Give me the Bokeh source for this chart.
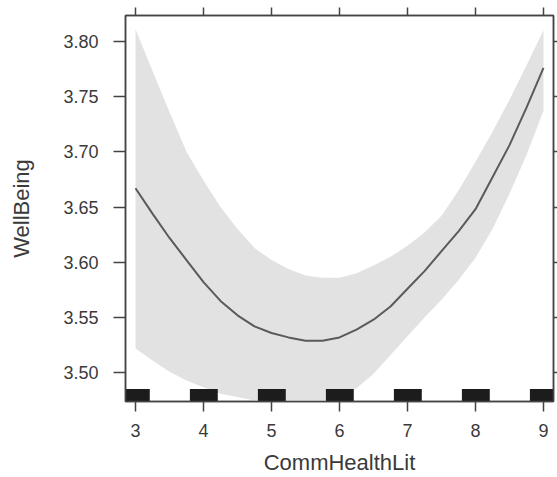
from bokeh.plotting import figure
from bokeh.models import Range1d, LinearAxis, FixedTicker, CustomLabelingPolicy
from bokeh.embed import file_html
from bokeh.resources import INLINE

# ---- data ----
x_grid = [3.0, 3.25, 3.5, 3.75, 4.0, 4.25, 4.5, 4.75, 5.0, 5.25, 5.5, 5.75, 6.0,
          6.25, 6.5, 6.75, 7.0, 7.25, 7.5, 7.75, 8.0, 8.25, 8.5, 8.75, 9.0]
fit = [3.667, 3.644, 3.622, 3.602, 3.582, 3.565, 3.552, 3.542, 3.536, 3.532, 3.529, 3.529, 3.532,
       3.539, 3.548, 3.560, 3.576, 3.592, 3.610, 3.628, 3.648, 3.677, 3.706, 3.740, 3.776]
upper = [3.811, 3.773, 3.736, 3.700, 3.674, 3.650, 3.630, 3.613, 3.602, 3.594, 3.588, 3.586, 3.586,
         3.590, 3.597, 3.605, 3.615, 3.627, 3.642, 3.665, 3.691, 3.718, 3.747, 3.778, 3.810]
lower = [3.522, 3.511, 3.501, 3.493, 3.487, 3.481, 3.478, 3.475, 3.473, 3.472, 3.472, 3.473, 3.478,
         3.486, 3.499, 3.516, 3.533, 3.550, 3.566, 3.584, 3.604, 3.630, 3.662, 3.697, 3.737]
rug_values = [3, 4, 5, 6, 7, 8, 9]
x_ticks = [3, 4, 5, 6, 7, 8, 9]
y_ticks = [3.50, 3.55, 3.60, 3.65, 3.70, 3.75, 3.80]
y_tick_labels = ["3.50", "3.55", "3.60", "3.65", "3.70", "3.75", "3.80"]
x_title = "CommHealthLit"
y_title = "WellBeing"

# ---- styling ----
FONT = "Liberation Sans"
TXT = "#3a3a3a"
LINE = "#444444"
X0, X1 = 2.853, 9.147
Y0, Y1 = 3.474, 3.8233
FRAME_H = 386

p = figure(width=557, height=477, output_backend="svg", toolbar_location=None,
           x_range=Range1d(X0, X1), y_range=Range1d(Y0, Y1),
           min_border_left=125, min_border_right=4, min_border_top=15, min_border_bottom=76)
p.grid.visible = False
p.background_fill_color = "white"
p.border_fill_color = "white"
p.outline_line_color = LINE
p.outline_line_width = 1.5

# confidence band
p.varea(x=x_grid, y1=lower, y2=upper, fill_color="#e2e2e3")
# fitted effect
p.line(x=x_grid, y=fit, line_color="#5a5a5a", line_width=2)
# rug
rug_h = (Y1 - Y0) * 12.5 / FRAME_H
p.quad(left=[v - 0.2 for v in rug_values], right=[v + 0.21 for v in rug_values],
       bottom=[Y0] * len(rug_values), top=[Y0 + rug_h] * len(rug_values),
       fill_color="#1c1c1c", line_color=None)

def style_axis(ax, tick_out):
    ax.major_tick_out = tick_out
    ax.major_tick_in = 0
    ax.minor_tick_out = 0
    ax.minor_tick_in = 0
    ax.axis_line_color = LINE
    ax.axis_line_width = 1.5
    ax.major_tick_line_color = LINE
    ax.major_tick_line_width = 1.5
    ax.major_label_text_font = FONT
    ax.major_label_text_color = TXT
    ax.axis_label_text_font = FONT
    ax.axis_label_text_color = TXT
    ax.axis_label_text_font_style = "normal"

xa = p.xaxis[0]
xa.ticker = FixedTicker(ticks=x_ticks)
style_axis(xa, 10)
xa.major_label_text_font_size = "18px"
xa.major_label_standoff = 12
xa.axis_label = x_title
xa.axis_label_text_font_size = "22px"
xa.axis_label_standoff = 10

ya = p.yaxis[0]
ya.ticker = FixedTicker(ticks=y_ticks)
ya.major_label_overrides = {t: l for t, l in zip(y_ticks, y_tick_labels)}
style_axis(ya, 12)
ya.major_label_text_font_size = "18px"
ya.major_label_standoff = 15
ya.axis_label = y_title
ya.axis_label_text_font_size = "22px"
ya.axis_label_standoff = 26

no_labels = """
const all = [...indices];
for (const i of all) indices.unset(i);
return indices;
"""

top = LinearAxis(ticker=FixedTicker(ticks=x_ticks),
                 major_label_policy=CustomLabelingPolicy(code=no_labels))
style_axis(top, 8)
top.major_label_text_font_size = "0px"
top.major_label_standoff = 0
p.add_layout(top, "above")

right = LinearAxis(ticker=FixedTicker(ticks=y_ticks),
                   major_label_policy=CustomLabelingPolicy(code=no_labels))
style_axis(right, 4)
right.major_label_text_font_size = "0px"
right.major_label_standoff = 0
p.add_layout(right, "right")

open("out.html", "w").write(file_html(p, INLINE))
